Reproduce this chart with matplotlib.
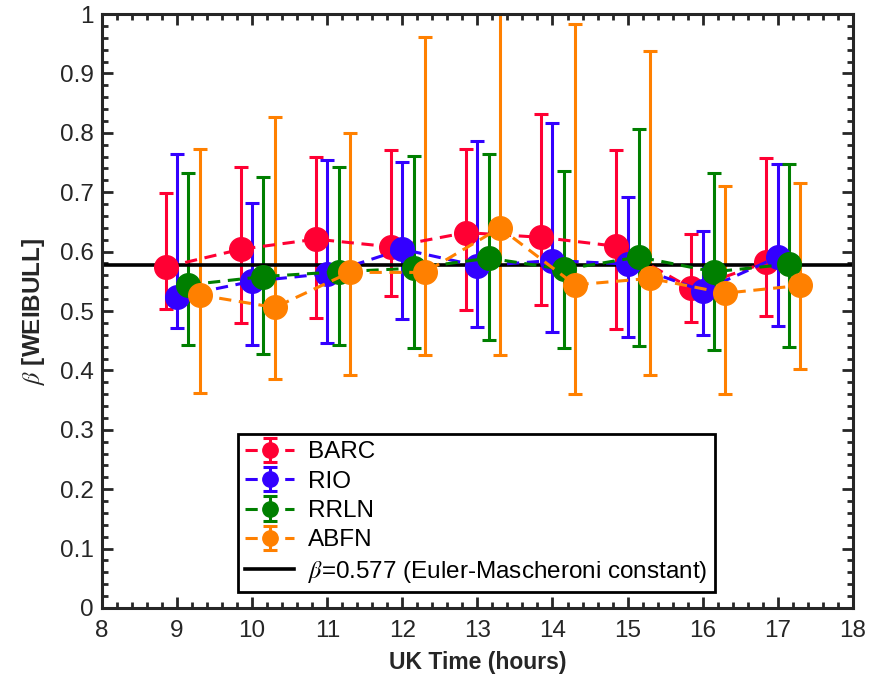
import matplotlib
matplotlib.use("Agg")
import matplotlib.pyplot as plt
from matplotlib.ticker import MultipleLocator
import numpy as np

plt.rcParams['font.family'] = ['Liberation Sans', 'DejaVu Sans']
plt.rcParams['mathtext.fontset'] = 'stix'

hours = np.array([9, 10, 11, 12, 13, 14, 15, 16, 17])

# beta estimate, lower and upper bound of the error bar for each station
barc = [0.574, 0.604, 0.621, 0.608, 0.632, 0.624, 0.609, 0.538, 0.582]
barc_lo = [0.503, 0.480, 0.489, 0.526, 0.501, 0.510, 0.470, 0.482, 0.492]
barc_hi = [0.698, 0.742, 0.760, 0.771, 0.773, 0.831, 0.771, 0.629, 0.757]

rio = [0.524, 0.550, 0.563, 0.604, 0.576, 0.585, 0.579, 0.534, 0.591]
rio_lo = [0.471, 0.443, 0.446, 0.486, 0.473, 0.465, 0.456, 0.460, 0.474]
rio_hi = [0.764, 0.681, 0.754, 0.751, 0.787, 0.817, 0.692, 0.634, 0.748]

rrln = [0.544, 0.558, 0.566, 0.572, 0.589, 0.570, 0.591, 0.566, 0.579]
rrln_lo = [0.442, 0.428, 0.442, 0.437, 0.451, 0.437, 0.441, 0.435, 0.440]
rrln_hi = [0.733, 0.726, 0.742, 0.761, 0.765, 0.735, 0.806, 0.733, 0.748]

abfn = [0.527, 0.506, 0.565, 0.565, 0.640, 0.544, 0.555, 0.530, 0.543]
abfn_lo = [0.362, 0.386, 0.392, 0.426, 0.426, 0.361, 0.393, 0.361, 0.403]
abfn_hi = [0.772, 0.826, 0.800, 0.962, 1.05, 0.983, 0.938, 0.710, 0.716]

euler = 0.577

series = [
    ("BARC", -0.15, barc, barc_lo, barc_hi, "#ff0033"),
    ("RIO", 0.0, rio, rio_lo, rio_hi, "#3300ff"),
    ("RRLN", 0.15, rrln, rrln_lo, rrln_hi, "#007f00"),
    ("ABFN", 0.30, abfn, abfn_lo, abfn_hi, "#ff8000"),
]

fig = plt.figure(figsize=(8.81, 6.87), dpi=100)
ax = fig.add_axes([0.1158, 0.115, 0.8522, 0.8646])

handles = []
for name, off, y, lo, hi, col in series:
    y = np.array(y)
    err = [y - np.array(lo), np.array(hi) - y]
    h = ax.errorbar(hours + off, y, yerr=err, color=col, marker='o', markersize=17,
                    linestyle=(0, (4, 2.5)), linewidth=2.2, elinewidth=2.2,
                    capsize=5, capthick=2.2, label=name)
    handles.append(h)

hl = ax.axhline(euler, color='black', linewidth=2.6,
                label=r'$\beta$=0.577 (Euler-Mascheroni constant)')
handles.append(hl)

ax.set_xlim(8, 18)
ax.set_ylim(0, 1)
ax.xaxis.set_major_locator(MultipleLocator(1))
ax.xaxis.set_minor_locator(MultipleLocator(0.2))
ax.yaxis.set_minor_locator(MultipleLocator(0.02))
ax.set_yticks(np.arange(0, 1.01, 0.1))
ax.set_yticklabels(['0', '0.1', '0.2', '0.3', '0.4', '0.5', '0.6', '0.7', '0.8', '0.9', '1'])

ax.tick_params(which='both', direction='in', top=True, right=True,
               colors='#262626', labelsize=17.5, width=2)
ax.tick_params(axis='x', which='major', pad=9)
ax.tick_params(axis='y', which='major', pad=6)
ax.tick_params(which='major', length=8)
ax.tick_params(which='minor', length=4)
for s in ax.spines.values():
    s.set_linewidth(2.2)
    s.set_color('#262626')

ax.set_xlabel('UK Time (hours)', fontsize=16.5, fontweight='bold', color='#262626',
              labelpad=6)
ax.set_ylabel(r'$\beta$ [WEIBULL]', fontsize=17.5, fontweight='bold', color='#262626',
              labelpad=9)

leg = ax.legend(handles=handles, loc='lower left', bbox_to_anchor=(0.181, 0.027),
                borderaxespad=0, fontsize=17.5, frameon=True, fancybox=False,
                framealpha=1, edgecolor='black', markerscale=0.65, handlelength=2.0,
                borderpad=0.3, labelspacing=0.3, handletextpad=0.6)
leg.get_frame().set_linewidth(2)

fig.savefig("out.png", dpi=100)
